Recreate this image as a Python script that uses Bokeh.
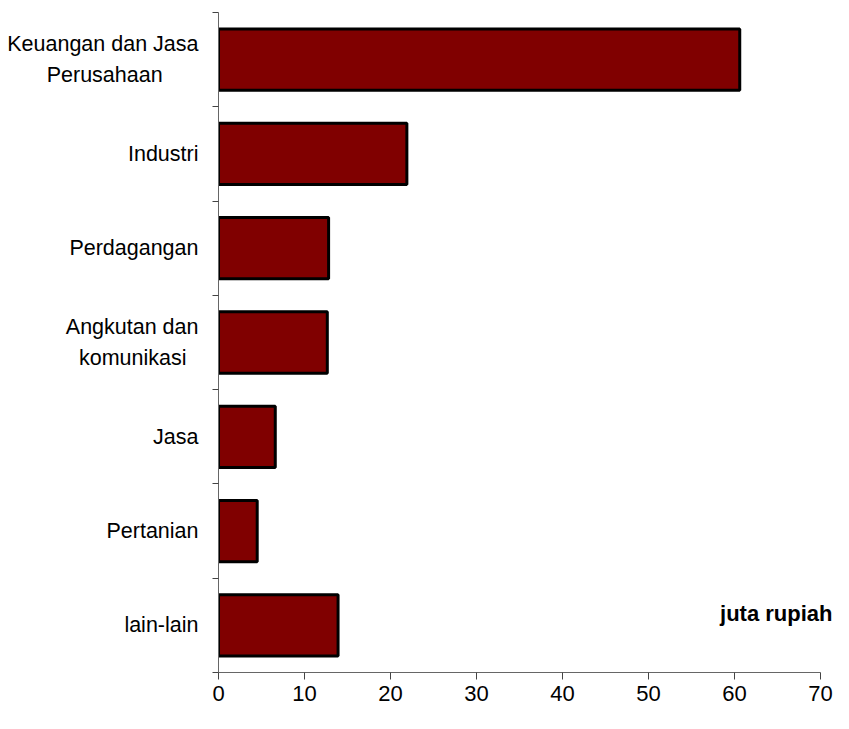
from bokeh.plotting import figure
from bokeh.models import Range1d, FixedTicker, Label, ColumnDataSource
from bokeh.embed import file_html
from bokeh.resources import INLINE

NBSP = "\u00a0"
categories = ["Keuangan dan Jasa\nPerusahaan" + NBSP * 6, "Industri", "Perdagangan",
              "Angkutan dan\nkomunikasi" + NBSP * 2, "Jasa", "Pertanian", "lain-lain"]
values = [60.6, 21.9, 12.8, 12.65, 6.6, 4.5, 13.9]
x_ticks = [0, 10, 20, 30, 40, 50, 60, 70]
unit_label = "juta rupiah"

n = len(categories)
ypos = [n - 1 - i + 0.5 for i in range(n)]
src = ColumnDataSource(dict(y=ypos, v=values))

FONT = "Liberation Sans"
FS = "21.5px"

p = figure(width=833, height=713, output_backend="svg", toolbar_location=None,
           x_range=Range1d(0, 71.5), y_range=Range1d(0, n),
           min_border_left=218, min_border_right=0, min_border_top=12,
           min_border_bottom=41)
p.outline_line_color = None
p.xgrid.visible = False
p.ygrid.visible = False

p.hbar(y="y", right="v", left=0, height=0.65, source=src,
       fill_color="#800000", line_color="black", line_width=3)

# x axis
xa = p.xaxis[0]
xa.ticker = FixedTicker(ticks=x_ticks, minor_ticks=[])
xa.bounds = (0, 70)
xa.axis_line_color = "#666666"
xa.major_tick_line_color = "#444444"
xa.major_tick_out = 7
xa.major_tick_in = 0
xa.minor_tick_line_color = None
xa.major_label_text_font = FONT
xa.major_label_text_font_size = "22px"
xa.major_label_text_color = "black"
xa.major_label_standoff = 6

# y axis: labels at band centres, ticks at band boundaries
ya = p.yaxis[0]
ya.ticker = FixedTicker(ticks=ypos, minor_ticks=list(range(n + 1)))
ya.major_label_overrides = {y: c for y, c in zip(ypos, categories)}
ya.axis_line_color = "#666666"
ya.major_tick_line_color = None
ya.major_tick_out = 0
ya.major_tick_in = 0
ya.minor_tick_line_color = "#444444"
ya.minor_tick_out = 6
ya.minor_tick_in = 0
ya.major_label_text_font = FONT
ya.major_label_text_font_size = FS
ya.major_label_text_color = "black"
ya.major_label_text_line_height = 1.3
ya.major_label_standoff = 14

lab = Label(x=71.5, y=0.63, x_offset=-1, text=unit_label, text_align="right",
            text_baseline="alphabetic", text_font=FONT, text_font_size="22px",
            text_font_style="bold", text_color="black")
p.add_layout(lab)

open("out.html", "w").write(file_html(p, INLINE))
